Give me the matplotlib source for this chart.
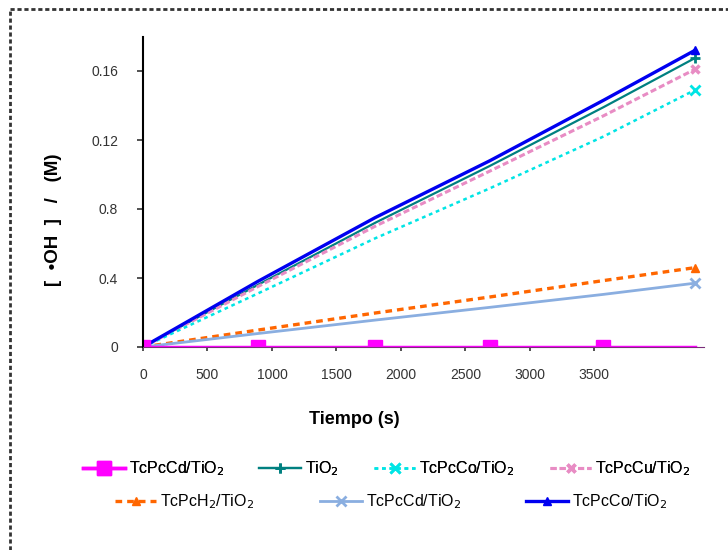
import matplotlib.pyplot as plt
from matplotlib.lines import Line2D
from matplotlib.ticker import FixedLocator, FixedFormatter

plt.rcParams['font.family'] = ['Liberation Sans', 'DejaVu Sans']

# time points (s) and [OH] values (M)
t = [0, 890, 1800, 2690, 3570, 4280]
cd_magenta = [0, 0, 0, 0, 0, 0]
tio2 = [0, 0.036, 0.072, 0.105, 0.139, 0.1675]
co_cyan = [0, 0.031, 0.063, 0.092, 0.122, 0.149]
cu = [0, 0.035, 0.070, 0.102, 0.134, 0.161]
h2 = [0, 0.0098, 0.0197, 0.029, 0.0385, 0.046]
cd_lblue = [0, 0.0078, 0.0156, 0.023, 0.0305, 0.037]
co_blue = [0, 0.038, 0.075, 0.108, 0.143, 0.172]

labels = ['TcPcCd/TiO$_2$', 'TiO$_2$', 'TcPcCo/TiO$_2$', 'TcPcCu/TiO$_2$',
          'TcPcH$_2$/TiO$_2$', 'TcPcCd/TiO$_2$', 'TcPcCo/TiO$_2$']
x_ticks = [0, 500, 1000, 1500, 2000, 2500, 3000, 3500]
y_ticks = [0, 0.04, 0.08, 0.12, 0.16]
y_ticklabels = ['0', '0.4', '0.8', '0.12', '0.16']

fig = plt.figure(figsize=(7.28, 5.5), dpi=100)
ax = fig.add_axes([143/728, 1 - 347/550, 561/728, 310.5/550])

ends = [0, len(t) - 1]
h = []
h += ax.plot(t, tio2, color='#008080', lw=1.6, marker='+', ms=7, mew=2, markevery=ends)
h += ax.plot(t, cu, color='#E88CC4', lw=2.2, ls=(0, (2, 1)), marker='x', ms=6, mew=2.5, markevery=ends)
h += ax.plot(t, co_cyan, color='#00E5E5', lw=1.8, ls=(0, (1.5, 1.5)), marker='x', ms=7, mew=2, markevery=ends)
h += ax.plot(t, h2, color='#FF6600', lw=2.4, ls=(0, (2, 1.5)), marker='^', ms=6, markevery=ends)
h += ax.plot(t, cd_lblue, color='#8AAEE0', lw=2.0, marker='x', ms=7, mew=2, markevery=ends)
h += ax.plot(t, co_blue, color='#0000F0', lw=2.4, marker='^', ms=6, markevery=ends)
h += ax.plot(t, cd_magenta, color='#FF00FF', lw=2.5, marker='s', ms=10.5,
             markevery=list(range(len(t) - 1)))
l_tio2, l_cu, l_cyan, l_h2, l_lb, l_blue, l_mag = h

ax.set_xlim(0, 4350)
ax.set_ylim(0, 0.18)
ax.spines['top'].set_visible(False)
ax.spines['right'].set_visible(False)
ax.spines['left'].set_linewidth(1.5)
ax.spines['bottom'].set_color('#7A2E7A')
ax.xaxis.set_major_locator(FixedLocator(x_ticks))
ax.yaxis.set_major_locator(FixedLocator(y_ticks))
ax.yaxis.set_major_formatter(FixedFormatter(y_ticklabels))
ax.tick_params(axis='y', direction='out', length=4, width=1.2, pad=14, labelsize=10, colors='#333333')
ax.tick_params(axis='x', direction='out', length=3, width=1.2, pad=12, labelsize=10, colors='#333333')

ax.set_xlabel('Tiempo (s)', fontsize=13, fontweight='bold')
ax.xaxis.set_label_coords((354 - 143) / 561, -0.205)
ax.set_ylabel('[  \u2022OH  ]   /   (M)', fontsize=13.5, fontweight='bold')
ax.yaxis.set_label_coords(-(143 - 62) / 561, 0.41)

leg_kw = dict(loc='center', frameon=False, fontsize=11.5, handlelength=2.6, handletextpad=0.25)
leg1 = fig.legend([l_mag, l_tio2, l_cyan, l_cu], labels[:4], ncol=4,
                  bbox_to_anchor=(387/728, 1 - 469/550), columnspacing=2.2, **leg_kw)
fig.add_artist(leg1)
fig.legend([l_h2, l_lb, l_blue], labels[4:], ncol=3,
           bbox_to_anchor=(391/728, 1 - 502/550), columnspacing=4.1, **leg_kw)

# dashed frame around the chart area (left and top edges visible)
fig.add_artist(Line2D([10/728, 10/728], [0, 1 - 9/550], transform=fig.transFigure,
                      color='#333333', lw=2, ls=(0, (1.5, 1))))
fig.add_artist(Line2D([10/728, 1], [1 - 9/550, 1 - 9/550], transform=fig.transFigure,
                      color='#333333', lw=2, ls=(0, (1.5, 1))))

fig.savefig('out.png', dpi=100)
